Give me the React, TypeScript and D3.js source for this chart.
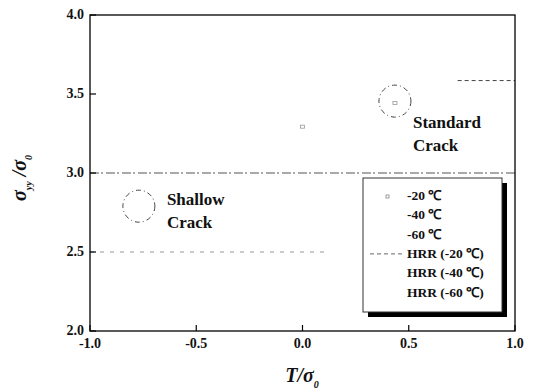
import React from "react";
import * as d3 from "d3";

// Axis ticks
const xTicks = [-1.0, -0.5, 0.0, 0.5, 1.0];
const yTicks = [2.0, 2.5, 3.0, 3.5, 4.0];

// Data series
const pts20: [number, number][] = [[0.0, 3.29], [0.435, 3.44]];
const pts40: [number, number][] = [];
const pts60: [number, number][] = [];
const hrr20: [number, number][] = [[0.73, 3.585], [1.0, 3.585]];
const hrr40: [number, number][] = [[-1.0, 3.0], [1.0, 3.0]];
const hrr60: [number, number][] = [[-1.0, 2.5], [0.13, 2.5]];

// Region markers (center x, center y in data units)
const regions = [
  { name: ["Shallow", "Crack"], cx: -0.77, cy: 2.79 },
  { name: ["Standard", "Crack"], cx: 0.435, cy: 3.455 },
];

const legendLabels = ["-20 ℃", "-40 ℃", "-60 ℃", "HRR (-20 ℃)", "HRR (-40 ℃)", "HRR (-60 ℃)"];

const W = 533, H = 392;
const M = { left: 90, right: 515, top: 15, bottom: 331 };
const FONT = '"Liberation Serif", monospace';

export default function App() {
  const x = d3.scaleLinear().domain([-1, 1]).range([M.left, M.right]);
  const y = d3.scaleLinear().domain([2, 4]).range([M.bottom, M.top]);
  const line = d3.line<[number, number]>().x(d => x(d[0])).y(d => y(d[1]));
  const ts = { fontFamily: FONT };

  const lx = 363, ly = 178, lw = 139, lh = 134;

  return (
    <svg width={W} height={H} style={{ position: "absolute", left: 0, top: 0, background: "#fff" }}>
      {/* reference lines */}
      <path d={line(hrr40) || ""} stroke="#555" strokeWidth={1.2} strokeDasharray="9,2,2,3" fill="none" />
      <path d={line(hrr60) || ""} stroke="#999" strokeWidth={1} strokeDasharray="4,6" fill="none" />
      <path d={line(hrr20) || ""} stroke="#444" strokeWidth={1} strokeDasharray="4,3" fill="none" />

      {/* data markers */}
      {pts20.map((p, i) => (
        <rect key={"a" + i} x={x(p[0]) - 2} y={y(p[1]) - 2} width={4} height={3} fill="none" stroke="#999" strokeWidth={0.8} />
      ))}
      {pts40.map((p, i) => (
        <circle key={"b" + i} cx={x(p[0])} cy={y(p[1])} r={2} fill="none" stroke="#999" />
      ))}
      {pts60.map((p, i) => (
        <circle key={"c" + i} cx={x(p[0])} cy={y(p[1])} r={2} fill="#999" />
      ))}

      {/* region circles and labels */}
      {regions.map((r, i) => (
        <g key={"r" + i}>
          <circle cx={x(r.cx)} cy={y(r.cy)} r={16} fill="none" stroke="#444" strokeWidth={1} strokeDasharray="5,3,1,3" />
          <text x={x(r.cx) + (i === 0 ? 28 : 18)} y={y(r.cy) + (i === 0 ? -1 : 27)} fontSize={17} fontWeight="bold" fill="#111" style={ts}>
            {r.name[0]}
          </text>
          <text x={x(r.cx) + (i === 0 ? 28 : 18)} y={y(r.cy) + (i === 0 ? 22 : 50)} fontSize={17} fontWeight="bold" fill="#111" style={ts}>
            {r.name[1]}
          </text>
        </g>
      ))}

      {/* frame */}
      <rect x={M.left} y={M.top} width={M.right - M.left} height={M.bottom - M.top} fill="none" stroke="#000" strokeWidth={1.3} />

      {/* ticks */}
      {xTicks.map(t => (
        <g key={"xt" + t}>
          <line x1={x(t)} x2={x(t)} y1={M.bottom} y2={M.bottom - 6} stroke="#000" strokeWidth={1.2} />
          <text x={x(t)} y={348} textAnchor="middle" fontSize={14} fontWeight="bold" fill="#111" style={ts}>{t.toFixed(1)}</text>
        </g>
      ))}
      {yTicks.map(t => (
        <g key={"yt" + t}>
          <line x1={M.left} x2={M.left + 6} y1={y(t)} y2={y(t)} stroke="#000" strokeWidth={1.2} />
          <text x={84} y={y(t) + 4} textAnchor="end" fontSize={14} fontWeight="bold" fill="#111" style={ts}>{t.toFixed(1)}</text>
        </g>
      ))}

      {/* axis titles */}
      <text x={302} y={382} textAnchor="middle" fontSize={20} fontWeight="bold" fontStyle="italic" fill="#111" style={ts}>
        T/σ<tspan fontSize={10} dy={6}>0</tspan>
      </text>
      <text transform="translate(26,178) rotate(-90)" textAnchor="middle" fontSize={20} fontWeight="bold" fontStyle="italic" fill="#111" style={ts}>
        σ<tspan fontSize={10} dy={6}>yy</tspan><tspan dy={-6}> /σ</tspan><tspan fontSize={10} dy={6}>0</tspan>
      </text>

      {/* legend */}
      <rect x={lx + 5} y={ly + 5} width={lw} height={lh} fill="#000" />
      <rect x={lx} y={ly} width={lw} height={lh} fill="#fff" stroke="#333" strokeWidth={1} />
      {legendLabels.map((s, i) => {
        const yy = ly + 22 + i * 19.3;
        return (
          <g key={"lg" + i}>
            {i === 0 && <rect x={386} y={yy - 5} width={3} height={3} fill="none" stroke="#888" strokeWidth={0.8} />}
            {i === 3 && <line x1={370} x2={403} y1={yy - 4} y2={yy - 4} stroke="#666" strokeWidth={1} strokeDasharray="4,3" />}
            <text x={407} y={yy} fontSize={13.5} fontWeight="bold" fill="#111" style={ts}>{s}</text>
          </g>
        );
      })}
    </svg>
  );
}
